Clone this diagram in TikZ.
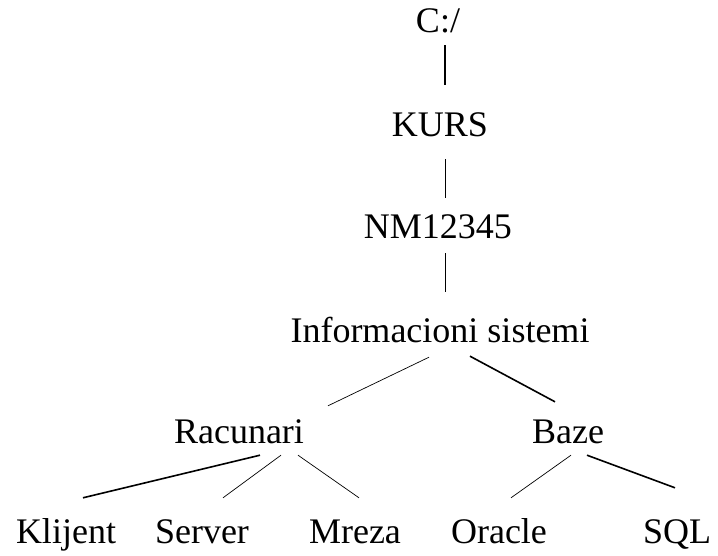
\documentclass[tikz,border=0pt]{standalone}
\usepackage{fontspec}
\setmainfont{Liberation Serif}
\usepackage{tikz}
\usetikzlibrary{calc}
\tikzset{
  lbl/.style={font=\fontsize{36}{40}\selectfont, inner sep=0pt, text height=24pt, text depth=0pt, anchor=base},
  thinedge/.style={line width=0.7pt},
  thickedge/.style={line width=1.6pt}
}

\begin{document}
\begin{tikzpicture}[x=1pt,y=-1pt]
\useasboundingbox (0,0) rectangle (718,556);
\node[lbl] (root) at (438,33) {C:/};
\node[lbl] (kurs) at (440,137) {KURS};
\node[lbl] (nm) at (438,239) {NM12345};
\node[lbl] (info) at (440,342) {Informacioni sistemi};
\node[lbl] (racu) at (239,443) {Racunari};
\node[lbl] (baze) at (568,443) {Baze};
\node[lbl] (klijent) at (66,543) {Klijent};
\node[lbl] (server) at (202,543) {Server};
\node[lbl] (mreza) at (355,543) {Mreza};
\node[lbl] (oracle) at (499,543) {Oracle};
\node[lbl] (sql) at (677,543) {SQL};
\draw[thickedge] ($(root.south)+(7,12)$) -- ($(kurs.north)+(5,-28)$);
\draw[thinedge] ($(kurs.south)+(5,22)$) -- ($(nm.north)+(7,-17)$);
\draw[thinedge] ($(nm.south)+(7,14)$) -- ($(info.north)+(5,-26)$);
\draw[thinedge] ($(info.south)+(-11,15)$) -- ($(racu.north)+(89,-13)$);
\draw[thickedge] ($(info.south)+(30,14)$) -- ($(baze.north)+(-13,-17)$);
\draw[thickedge] ($(racu.south)+(21,12)$) -- ($(klijent.north)+(17,-21)$);
\draw[thinedge] ($(racu.south)+(42,12)$) -- ($(server.north)+(21,-21)$);
\draw[thinedge] ($(racu.south)+(59,12)$) -- ($(mreza.north)+(4,-21)$);
\draw[thinedge] ($(baze.south)+(3,12)$) -- ($(oracle.north)+(12,-21)$);
\draw[thickedge] ($(baze.south)+(19,12)$) -- ($(sql.north)+(-2,-31)$);
\end{tikzpicture}
\end{document}
